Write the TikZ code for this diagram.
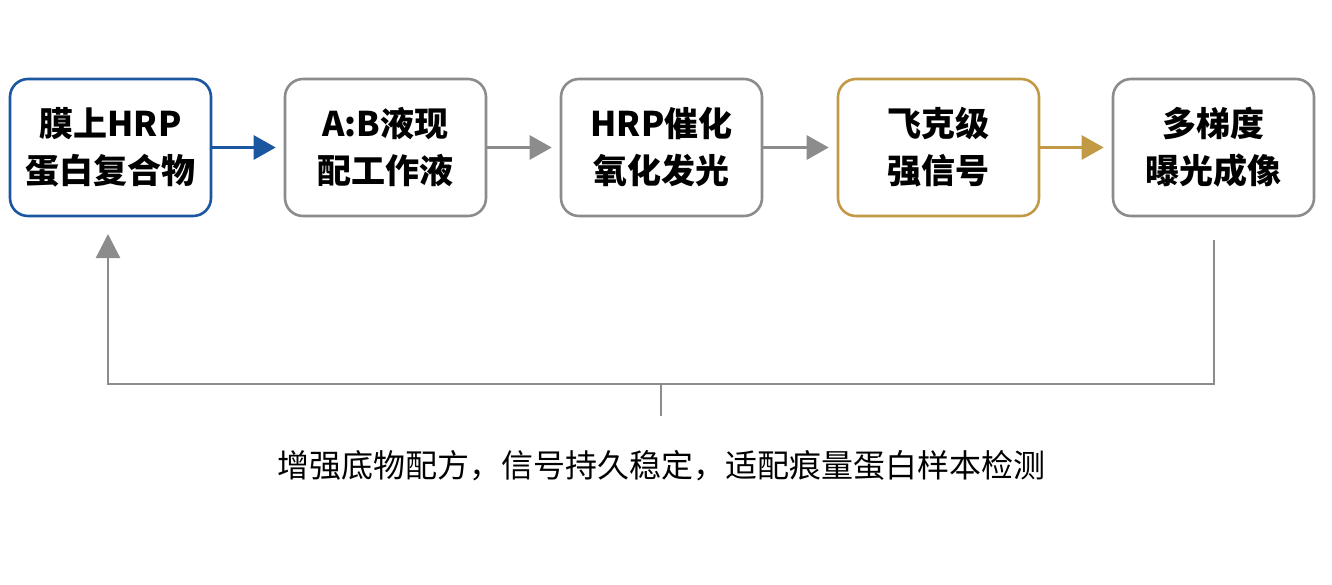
\documentclass[tikz,border=0pt]{standalone}
\usepackage{fontspec}
\newfontfamily\cjk{Noto Sans CJK SC}
\usetikzlibrary{arrows.meta}
\definecolor{cblue}{HTML}{1B56A0}
\definecolor{cgray}{HTML}{8C8C8C}
\definecolor{cgold}{HTML}{C29A45}
\tikzset{
  stepbox/.style={draw=cgray, line width=2.6pt, rounded corners=18pt, fill=white,
    minimum width=201pt, minimum height=137pt, align=center, inner sep=0pt,
    font=\cjk\bfseries\fontsize{34}{47}\selectfont, text=black},
  flow/.style={line width=3pt, shorten >=8pt, -{Triangle[length=22pt,width=24pt]}},
}
\begin{document}
\begin{tikzpicture}[x=1pt,y=-1pt]
\useasboundingbox[fill=white] (0,0) rectangle (1332,584);
\node[stepbox, draw=cblue] (b1) at (110.5,147.5) {膜上HRP\\蛋白复合物};
\node[stepbox] (b2) at (385.5,147.5) {A:B液现\\配工作液};
\node[stepbox] (b3) at (661.5,147.5) {HRP催化\\氧化发光};
\node[stepbox, draw=cgold] (b4) at (938.5,147.5) {飞克级\\强信号};
\node[stepbox] (b5) at (1213.5,147.5) {多梯度\\曝光成像};
\draw[flow, cblue] (b1.east) -- (b2.west);
\draw[flow, cgray] (b2.east) -- (b3.west);
\draw[flow, cgray] (b3.east) -- (b4.west);
\draw[flow, cgold] (b4.east) -- (b5.west);
\coordinate (fs) at (1214,240);
\coordinate (fe) at (108,234);
\coordinate (mid) at (661,384);
\coordinate (tick) at (661,416);
\draw[cgray, line width=2.4pt, -{Triangle[length=24pt,width=24pt]}] (fs) |- (mid) -| (fe);
\node[font=\cjk\fontsize{32}{36}\selectfont, text=black] (note) at (661,466) {增强底物配方，信号持久稳定，适配痕量蛋白样本检测};
\draw[cgray, line width=2pt] (mid) -- (tick);
\end{tikzpicture}
\end{document}
